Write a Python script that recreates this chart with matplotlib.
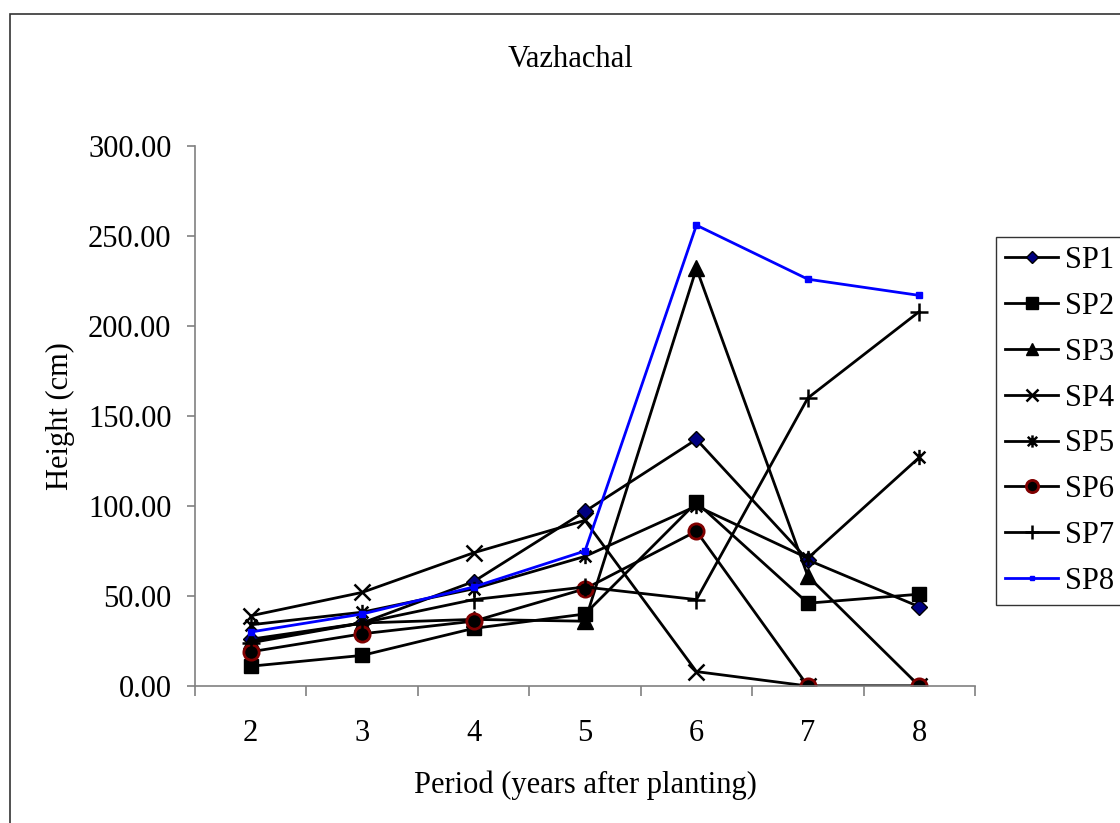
import matplotlib
matplotlib.use("Agg")
import matplotlib.pyplot as plt
from matplotlib.path import Path
from matplotlib.patches import Rectangle

# Data
periods = [2, 3, 4, 5, 6, 7, 8]
sp1 = [26, 35, 58, 97, 137, 70, 44]
sp2 = [11, 17, 32, 40, 102, 46, 51]
sp3 = [25, 35, 37, 36, 232, 61, 0]
sp4 = [39, 52, 74, 92, 8, 0, 0]
sp5 = [34, 41, 54, 72, 100, 71, 127]
sp6 = [19, 29, 36, 54, 86, 0, 0]
sp7 = [24, 35, 48, 55, 48, 160, 208]
sp8 = [30, 40, 55, 75, 256, 226, 217]
y_ticks = [0, 50, 100, 150, 200, 250, 300]

# asterisk marker like Excel: x plus a vertical bar
asterisk = Path(
    [(-1, -1), (1, 1), (-1, 1), (1, -1), (0, -1.3), (0, 1.3)],
    [Path.MOVETO, Path.LINETO, Path.MOVETO, Path.LINETO, Path.MOVETO, Path.LINETO],
)

plt.rcParams["font.family"] = "Liberation Serif"
fs = 22

fig = plt.figure(figsize=(11.2, 8.23), dpi=100)
ax = fig.add_axes([195 / 1120, 1 - 686 / 823, 780 / 1120, 540 / 823])

# outer chart border (right and bottom edges fall outside the image)
fig.patches.append(Rectangle((10 / 1120, -0.05), 1.2, 1.05 - 14 / 823,
                             transform=fig.transFigure, fill=False,
                             edgecolor="#333333", linewidth=1.2))

lw = 2
ax.plot(periods, sp1, color="black", lw=lw, marker="D", markersize=8,
        markerfacecolor="#000080", markeredgecolor="black", label="SP1")
ax.plot(periods, sp2, color="black", lw=lw, marker="s", markersize=10.5,
        markerfacecolor="black", markeredgecolor="black", label="SP2")
ax.plot(periods, sp3, color="black", lw=lw, marker="^", markersize=11,
        markerfacecolor="black", markeredgecolor="black", label="SP3")
ax.plot(periods, sp4, color="black", lw=lw, marker="x", markersize=11,
        markeredgewidth=1.8, markeredgecolor="black", label="SP4")
ax.plot(periods, sp5, color="black", lw=lw, marker=asterisk, markersize=11,
        markeredgewidth=1.8, markeredgecolor="black", label="SP5")
ax.plot(periods, sp6, color="black", lw=lw, marker="o", markersize=11,
        markerfacecolor="black", markeredgecolor="#800000", markeredgewidth=2,
        label="SP6")
ax.plot(periods, sp7, color="black", lw=lw, marker="+", markersize=13,
        markeredgewidth=1.8, markeredgecolor="black", label="SP7")
ax.plot(periods, sp8, color="#0000ff", lw=lw, marker="s", markersize=4,
        markerfacecolor="#0000ff", markeredgecolor="#0000ff", label="SP8")

ax.set_xlim(1.5, 8.5)
ax.set_ylim(0, 300)
ax.set_yticks(y_ticks)
ax.set_yticklabels([f"{v:.2f}" for v in y_ticks])
ax.set_xticks(periods)
ax.set_xticklabels([str(p) for p in periods])
ax.set_xticks([p + 0.5 for p in [1] + periods], minor=True)

for side in ["top", "right"]:
    ax.spines[side].set_visible(False)
for side in ["left", "bottom"]:
    ax.spines[side].set_color("#808080")
    ax.spines[side].set_linewidth(1.2)

ax.tick_params(axis="y", direction="out", length=6, width=1.2, color="#808080",
               labelsize=fs, pad=11)
ax.tick_params(axis="x", which="major", length=0, labelsize=fs, pad=24)
ax.tick_params(axis="x", which="minor", direction="out", length=7, width=1.2,
               color="#808080")

# title is centred on the whole chart area
fig.text(571 / 1120, 1 - 67 / 823, "Vazhachal", fontsize=fs,
         ha="center", va="baseline")

ax.set_ylabel("Height (cm)", fontsize=fs)
ax.yaxis.set_label_coords(-0.172, 0.5)
ax.yaxis.label.set_va("center")
ax.set_xlabel("Period (years after planting)", fontsize=fs)
ax.xaxis.set_label_coords(0.5, -0.198)
ax.xaxis.label.set_va("baseline")

leg = ax.legend(loc="upper left", bbox_to_anchor=(996 / 1120, 1 - 237 / 823),
                bbox_transform=fig.transFigure, fontsize=fs, frameon=True,
                fancybox=False, edgecolor="black", handlelength=1.73,
                handletextpad=0.23, labelspacing=0.55, borderpad=0.3,
                borderaxespad=0, markerscale=0.8)
leg.get_frame().set_linewidth(1)

fig.savefig("out.png", dpi=100)
